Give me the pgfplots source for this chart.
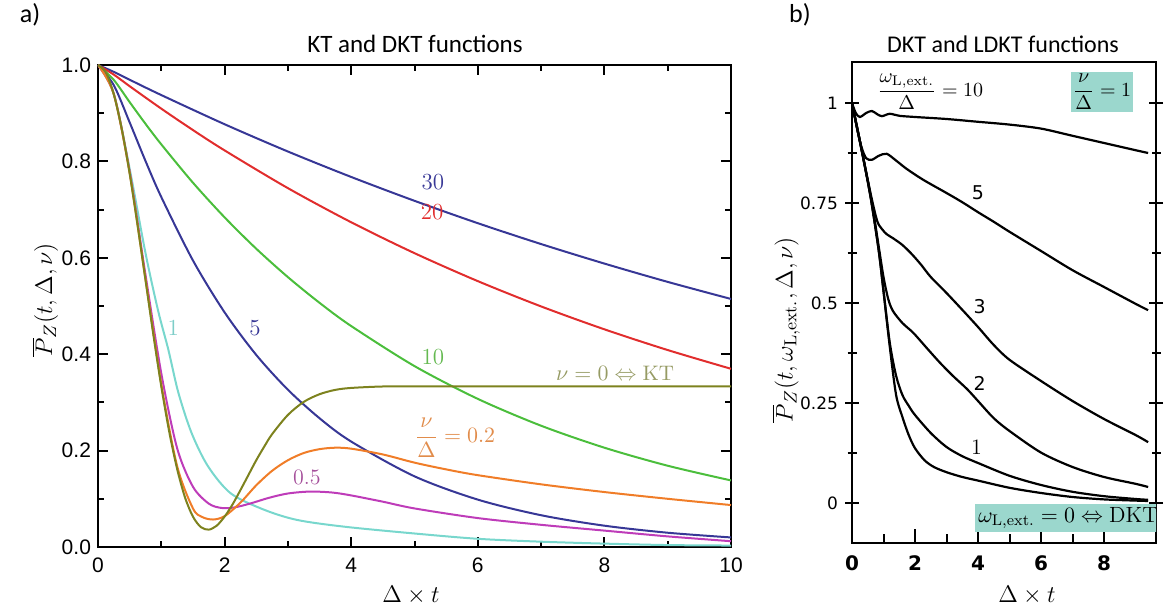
\documentclass[border=0pt]{standalone}
\usepackage{pgfplots}
\pgfplotsset{compat=1.18}
\usepackage{fontspec}
\newfontfamily\arialf{Liberation Sans}
\newfontfamily\calib{Carlito}
\newfontfamily\verd{DejaVu Sans}
\definecolor{cBlueD}{RGB}{55,55,150}
\definecolor{cRed}{RGB}{225,45,45}
\definecolor{cGreen}{RGB}{75,190,60}
\definecolor{cOlive}{RGB}{125,130,30}
\definecolor{cOrange}{RGB}{240,125,40}
\definecolor{cMag}{RGB}{190,60,185}
\definecolor{cCyan}{RGB}{120,215,205}
\definecolor{tGreen}{RGB}{100,185,80}
\definecolor{tOlive}{RGB}{150,155,100}
\definecolor{tOrange}{RGB}{225,140,75}
\definecolor{tMag}{RGB}{165,80,155}
\definecolor{tCyan}{RGB}{125,205,200}
\definecolor{cTeal}{RGB}{155,215,205}
\begin{document}
\begin{tikzpicture}[x=1pt,y=1pt]
\useasboundingbox (0,0) rectangle (584,307.5);
% ---------------- panel a ----------------
\begin{axis}[at={(49pt,34pt)}, anchor=south west, scale only axis,
  width=316.5pt, height=241pt,
  xmin=0, xmax=10, ymin=0, ymax=1,
  xtick={0,2,4,6,8,10}, ytick={0,0.2,0.4,0.6,0.8,1},
  minor x tick num=1, minor y tick num=1,
  tick align=inside, major tick length=5pt, minor tick length=3pt,
  axis line style={line width=1.2pt},
  every tick/.style={line width=1pt,black},
  tick label style={font=\fontsize{10.5}{12}\selectfont\arialf},
  /pgf/number format/assume math mode=true,
  yticklabel style={/pgf/number format/fixed,/pgf/number format/fixed zerofill,/pgf/number format/precision=1},
  xticklabel style={yshift=-2pt},
  every axis plot/.append style={line width=1pt, smooth, no markers}]
\addplot[cBlueD] coordinates {(0,1)(0.25,0.9857)(0.5,0.9694)(1,0.9376)(2,0.8771)(3,0.8205)(4,0.7677)(5,0.7182)(6,0.6718)(7,0.6285)(8,0.588)(9,0.55)(10,0.5146)};
\addplot[cRed] coordinates {(0,1)(0.25,0.980)(0.5,0.956)(1,0.9094)(1.5,0.865)(2,0.8228)(3,0.7445)(4,0.6737)(5,0.6096)(6,0.5516)(7,0.4991)(8,0.4516)(9,0.4086)(10,0.3697)};
\addplot[cGreen] coordinates {(0,1)(0.25,0.9689)(0.5,0.923)(0.75,0.878)(1,0.8353)(1.5,0.7558)(2,0.6839)(2.5,0.6188)(3,0.5599)(3.5,0.5066)(4,0.4584)(5,0.3753)(6,0.3073)(7,0.2516)(8,0.206)(9,0.1686)(10,0.1381)};
\addplot[cBlueD] coordinates {(0,1)(0.25,0.958)(0.5,0.881)(0.75,0.801)(1,0.726)(1.5,0.5945)(2,0.4868)(2.5,0.3985)(3,0.3263)(3.5,0.2671)(4,0.2187)(5,0.1466)(6,0.0983)(7,0.0659)(8,0.0442)(9,0.0296)(10,0.0198)};
\addplot[cCyan] coordinates {(0,1)(0.25,0.94)(0.5,0.785)(0.75,0.61)(0.95,0.49)(1.11,0.41)(1.27,0.32)(1.48,0.236)(1.74,0.167)(2.1,0.111)(2.63,0.077)(3.15,0.056)(3.9,0.042)(5,0.028)(6,0.017)(7,0.011)(8,0.007)(9,0.004)(10,0.003)};
\addplot[cMag] coordinates {(0,1)(0.25,0.94)(0.5,0.779)(0.75,0.565)(1,0.36)(1.25,0.205)(1.5,0.125)(1.75,0.09)(1.95,0.081)(2.15,0.082)(2.4,0.09)(2.7,0.102)(3,0.111)(3.35,0.115)(3.7,0.113)(4,0.107)(4.5,0.094)(5,0.08)(6,0.06)(7,0.046)(8,0.034)(9,0.022)(10,0.012)};
\addplot[cOrange] coordinates {(0,1)(0.25,0.939)(0.5,0.776)(0.75,0.556)(1,0.338)(1.25,0.168)(1.5,0.08)(1.65,0.062)(1.82,0.057)(2,0.064)(2.25,0.092)(2.5,0.128)(2.75,0.158)(3,0.18)(3.25,0.195)(3.5,0.203)(3.75,0.206)(4,0.204)(4.5,0.192)(5,0.175)(5.5,0.161)(6,0.149)(7,0.13)(8,0.114)(9,0.1)(10,0.087)};
\addplot[cOlive] coordinates {(0,1)(0.125,0.9845)(0.25,0.939)(0.375,0.8674)(0.5,0.775)(0.625,0.6675)(0.75,0.554)(0.875,0.4399)(1,0.333)(1.125,0.2393)(1.25,0.162)(1.375,0.1026)(1.5,0.063)(1.625,0.0412)(1.75,0.036)(1.875,0.0442)(2,0.063)(2.125,0.0882)(2.25,0.118)(2.375,0.149)(2.5,0.180)(2.625,0.208)(2.75,0.234)(3,0.274)(3.25,0.301)(3.5,0.317)(3.75,0.326)(4,0.330)(4.5,0.333)(5,0.333)(6,0.333)(8,0.333)(10,0.333)};
\node[text=cBlueD, font=\fontsize{11.5}{13}\selectfont] at (axis cs:5.29,0.757) {30};
\node[text=cRed, font=\fontsize{11.5}{13}\selectfont] at (axis cs:5.28,0.695) {20};
\node[text=tGreen, font=\fontsize{11.5}{13}\selectfont] at (axis cs:5.29,0.394) {10};
\node[text=cBlueD, font=\fontsize{11.5}{13}\selectfont] at (axis cs:2.48,0.454) {5};
\node[text=tCyan, font=\fontsize{11.5}{13}\selectfont] at (axis cs:1.19,0.454) {1};
\node[text=tMag, font=\fontsize{11}{13}\selectfont] at (axis cs:3.3,0.145) {0.5};
\node[text=tOlive, font=\fontsize{10.5}{12}\selectfont] at (axis cs:8.17,0.361) {$\nu=0\Leftrightarrow\mathrm{KT}$};
\node[text=tOrange, font=\fontsize{10.5}{12}\selectfont] at (axis cs:5.64,0.226) {$\displaystyle\frac{\nu}{\Delta}=0.2$};
\end{axis}
% ---------------- panel b ----------------
\begin{axis}[at={(426pt,36pt)}, anchor=south west, scale only axis,
  width=152pt, height=240.5pt,
  xmin=0, xmax=9.65, ymin=-0.1, ymax=1.1025,
  xtick={0,2,4,6,8}, ytick={0,0.25,0.5,0.75,1},
  yticklabels={0,0.25,0.5,0.75,1},
  minor x tick num=1, minor y tick num=1,
  xtick align=inside, ytick align=center, xtick pos=left,
  major tick length=7pt, minor tick length=4.5pt,
  axis line style={line width=1pt},
  every tick/.style={line width=1pt,black},
  yticklabel style={font=\fontsize{8.5}{10}\selectfont\verd},
  xticklabel style={font=\fontsize{10}{12}\selectfont\verd\bfseries, yshift=-3pt},
  /pgf/number format/assume math mode=true,
  every axis plot/.append style={line width=1.1pt, smooth, no markers}]
\addplot[black] coordinates {(0,1)(0.12,0.975)(0.25,0.965)(0.45,0.975)(0.63,0.98)(0.8,0.972)(0.95,0.967)(1.2,0.973)(1.5,0.968)(2,0.965)(3,0.96)(4,0.953)(5,0.946)(6,0.936)(7,0.918)(8,0.9)(9,0.882)(9.4,0.875)};
\addplot[black] coordinates {(0,1)(0.15,0.94)(0.3,0.89)(0.45,0.862)(0.63,0.858)(0.85,0.868)(1.1,0.873)(1.4,0.856)(1.74,0.835)(2.26,0.808)(3,0.775)(3.5,0.752)(4,0.727)(4.5,0.703)(5,0.678)(6,0.63)(7,0.582)(8,0.54)(9,0.498)(9.4,0.482)};
\addplot[black] coordinates {(0,1)(0.3,0.885)(0.6,0.77)(0.8,0.705)(0.95,0.685)(1.1,0.672)(1.3,0.662)(1.6,0.645)(1.9,0.622)(2.2,0.595)(2.5,0.565)(3,0.525)(3.5,0.483)(4,0.44)(4.5,0.395)(5,0.358)(6,0.305)(7,0.255)(8,0.21)(9,0.17)(9.4,0.152)};
\addplot[black] coordinates {(0,1)(0.3,0.885)(0.6,0.765)(0.85,0.64)(1.0,0.565)(1.15,0.51)(1.3,0.48)(1.6,0.45)(1.95,0.425)(2.4,0.385)(2.8,0.35)(3.2,0.318)(3.65,0.285)(4,0.255)(4.5,0.212)(5,0.18)(6,0.126)(7,0.09)(8,0.065)(9,0.048)(9.4,0.04)};
\addplot[black] coordinates {(0,1)(0.3,0.885)(0.6,0.76)(0.85,0.63)(1.0,0.53)(1.2,0.4)(1.4,0.318)(1.6,0.27)(1.8,0.243)(2.0,0.22)(2.5,0.175)(3.0,0.14)(3.5,0.117)(4,0.1)(5,0.068)(6,0.045)(7,0.028)(8,0.017)(9,0.01)(9.4,0.008)};
\addplot[black] coordinates {(0,1)(0.3,0.885)(0.6,0.76)(0.85,0.63)(1.0,0.53)(1.2,0.39)(1.4,0.27)(1.6,0.215)(1.8,0.17)(2.0,0.137)(2.3,0.107)(2.6,0.09)(3.0,0.077)(3.5,0.065)(4,0.056)(5,0.038)(6,0.025)(7,0.015)(8,0.009)(9,0.006)(9.4,0.005)};
\node[font=\fontsize{10}{12}\selectfont] at (axis cs:2.48,1.0275) {$\displaystyle\frac{\omega_{\mathrm{L,ext.}}}{\Delta}=10$};
\node[fill=cTeal, inner sep=1pt, font=\fontsize{10}{12}\selectfont] at (axis cs:7.94,1.0275) {$\displaystyle\frac{\nu}{\Delta}=1$};
\node[font=\fontsize{9.5}{11}\selectfont\verd] at (axis cs:4.0,0.775) {5};
\node[font=\fontsize{9.5}{11}\selectfont\verd] at (axis cs:4.05,0.49) {3};
\node[font=\fontsize{9.5}{11}\selectfont\verd] at (axis cs:4.05,0.30) {2};
\node[font=\fontsize{11}{12}\selectfont] at (axis cs:3.95,0.14) {1};
\node[fill=cTeal, anchor=west, inner sep=1.5pt, minimum height=13.5pt, minimum width=89pt, font=\fontsize{11}{12}\selectfont] at (axis cs:3.9,-0.0375) {$\omega_{\mathrm{L,ext.}}=0\Leftrightarrow\mathrm{DKT}$};
\end{axis}
% ---------------- texts ----------------
\node[font=\fontsize{13}{15}\selectfont\calib] at (15,300) {a)};
\node[font=\fontsize{13}{15}\selectfont\calib] at (400,300) {b)};
\node[font=\fontsize{12.5}{14}\selectfont\calib] at (207.5,285.5) {KT and DKT functions};
\node[font=\fontsize{12}{14}\selectfont\calib] at (501.5,285.5) {DKT and LDKT functions};
\node[font=\fontsize{12.5}{14}\selectfont] at (205.5,10) {$\Delta\times t$};
\node[font=\fontsize{12.5}{14}\selectfont] at (513.5,10) {$\Delta\times t$};
\node[rotate=90, font=\fontsize{12.5}{14}\selectfont] at (22.5,157.5) {$\overline{P}_Z(t,\Delta,\nu)$};
\node[rotate=90, font=\fontsize{12.5}{14}\selectfont] at (393,142.5) {$\overline{P}_Z(t,\omega_{\mathrm{L,ext.}},\Delta,\nu)$};
\end{tikzpicture}
\end{document}
